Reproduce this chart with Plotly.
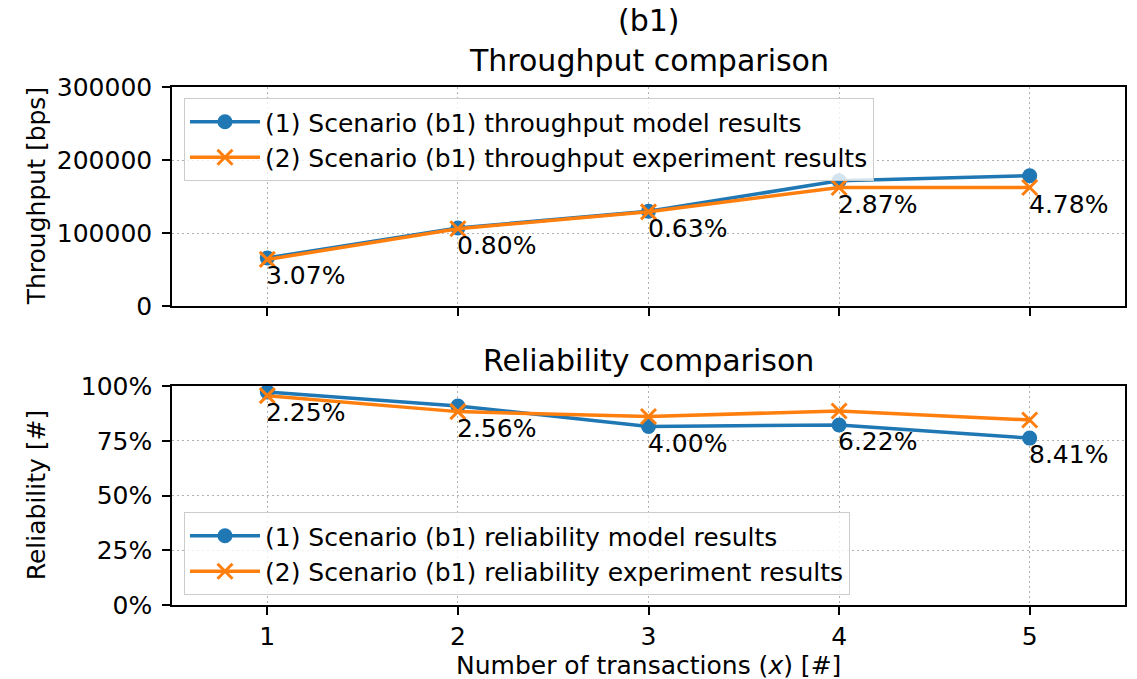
import plotly.graph_objects as go

# ---- data ----
x_tx = [1, 2, 3, 4, 5]
thr_model = [65900, 106800, 129800, 171500, 178500]
thr_exp = [63800, 105900, 129000, 162300, 162300]
thr_err = ["3.07%", "0.80%", "0.63%", "2.87%", "4.78%"]
rel_model = [97.3, 90.9, 81.5, 82.2, 76.2]
rel_exp = [95.6, 88.3, 86.1, 88.6, 84.5]
rel_err = ["2.25%", "2.56%", "4.00%", "6.22%", "8.41%"]
thr_ticks = [0, 100000, 200000, 300000]
thr_tick_labels = ["0", "100000", "200000", "300000"]
rel_ticks = [0, 25, 50, 75, 100]
rel_tick_labels = ["0%", "25%", "50%", "75%", "100%"]

BLUE = "#1f77b4"
ORANGE = "#ff7f0e"
FONT = "DejaVu Sans"
FS = 25
TFS = 30

W, H = 1137, 679
ML, MR, MT, MB = 172, 10, 87, 74
PH = H - MT - MB
PW = W - ML - MR


def py(ypx):
    return (H - MB - ypx) / PH


def px(xpx):
    return (xpx - ML) / PW


fig = go.Figure()

fig.add_trace(go.Scatter(
    x=x_tx, y=thr_model, mode="lines+markers",
    name="(1) Scenario (b1) throughput model results",
    line=dict(color=BLUE, width=3.5),
    marker=dict(symbol="circle", size=15, color=BLUE),
    xaxis="x", yaxis="y", legend="legend", legendgroup="a"))
fig.add_trace(go.Scatter(
    x=x_tx, y=thr_exp, mode="lines+markers",
    name="(2) Scenario (b1) throughput experiment results",
    line=dict(color=ORANGE, width=3.5),
    marker=dict(symbol="x-thin", size=15, color=ORANGE,
                line=dict(color=ORANGE, width=3)),
    xaxis="x", yaxis="y", legend="legend", legendgroup="b"))
fig.add_trace(go.Scatter(
    x=x_tx, y=rel_model, mode="lines+markers",
    name="(1) Scenario (b1) reliability model results",
    line=dict(color=BLUE, width=3.5),
    marker=dict(symbol="circle", size=15, color=BLUE),
    xaxis="x2", yaxis="y2", legend="legend2", legendgroup="c"))
fig.add_trace(go.Scatter(
    x=x_tx, y=rel_exp, mode="lines+markers",
    name="(2) Scenario (b1) reliability experiment results",
    line=dict(color=ORANGE, width=3.5),
    marker=dict(symbol="x-thin", size=15, color=ORANGE,
                line=dict(color=ORANGE, width=3)),
    xaxis="x2", yaxis="y2", legend="legend2", legendgroup="d"))

annotations = []
for xi, m, e, t in zip(x_tx, thr_model, thr_exp, thr_err):
    annotations.append(dict(x=xi, y=min(m, e), xref="x", yref="y", text=t,
                            showarrow=False, xanchor="left", yanchor="top",
                            xshift=-3, font=dict(size=FS, color="black")))
for xi, m, e, t in zip(x_tx, rel_model, rel_exp, rel_err):
    annotations.append(dict(x=xi, y=min(m, e), xref="x2", yref="y2", text=t,
                            showarrow=False, xanchor="left", yanchor="top",
                            xshift=-3, font=dict(size=FS, color="black")))

cx = 0.5
annotations += [
    dict(x=cx, y=py(20), xref="paper", yref="paper", text="(b1)", showarrow=False,
         xanchor="center", yanchor="middle", height=34,
         font=dict(size=TFS, color="black")),
    dict(x=cx, y=py(60), xref="paper", yref="paper", text="Throughput comparison",
         showarrow=False, xanchor="center", yanchor="middle", height=34,
         font=dict(size=TFS, color="black")),
    dict(x=cx, y=py(360), xref="paper", yref="paper", text="Reliability comparison",
         showarrow=False, xanchor="center", yanchor="middle",
         font=dict(size=TFS, color="black")),
    dict(x=px(36), y=py(196), xref="paper", yref="paper", text="Throughput [bps]",
         showarrow=False, textangle=-90, xanchor="center", yanchor="middle",
         font=dict(size=FS, color="black")),
    dict(x=px(36), y=py(495), xref="paper", yref="paper", text="Reliability [#]",
         showarrow=False, textangle=-90, xanchor="center", yanchor="middle",
         font=dict(size=FS, color="black")),
    dict(x=cx, y=py(665), xref="paper", yref="paper",
         text="Number of transactions (<i>x</i>) [#]",
         showarrow=False, xanchor="center", yanchor="middle",
         font=dict(size=FS, color="black")),
]

axis_common = dict(
    showline=True, linecolor="black", linewidth=1.5, mirror=True,
    ticks="outside", ticklen=8, tickwidth=1.5, tickcolor="black",
    showgrid=True, gridcolor="#b0b0b0", gridwidth=1.2, griddash="2px,3px",
    zeroline=False, tickfont=dict(size=FS, color="black", family=FONT),
)

legend_common = dict(
    bgcolor="rgba(255,255,255,0.8)", bordercolor="#cccccc", borderwidth=1,
    font=dict(size=FS, color="black", family=FONT),
    xanchor="left", yanchor="top", tracegroupgap=0, itemwidth=70,
)

fig.update_layout(
    width=W, height=H,
    margin=dict(l=ML, r=MR, t=MT, b=MB),
    paper_bgcolor="white", plot_bgcolor="white",
    font=dict(family=FONT, size=FS, color="black"),
    xaxis=dict(**axis_common, anchor="y", domain=[0, 1], range=[0.5, 5.5],
               tickvals=x_tx, showticklabels=False, matches="x2"),
    yaxis=dict(**axis_common, anchor="x", domain=[py(306), 1],
               range=[0, 300000], tickvals=thr_ticks, ticktext=thr_tick_labels,
               ticklabelstandoff=5),
    xaxis2=dict(**axis_common, anchor="y2", domain=[0, 1], range=[0.5, 5.5],
                tickvals=x_tx, ticktext=[str(v) for v in x_tx]),
    yaxis2=dict(**axis_common, anchor="x2", domain=[0, py(386)],
                range=[0, 100], tickvals=rel_ticks, ticktext=rel_tick_labels,
                ticklabelstandoff=5),
    legend=dict(**legend_common, x=px(184), y=py(98)),
    legend2=dict(**legend_common, x=px(184), y=py(512)),
    annotations=annotations,
    showlegend=True,
)

fig.write_html(
    "out.html",
    config={"displayModeBar": False},
    post_script="document.body.style.margin='0';document.body.style.overflow='hidden';",
)
